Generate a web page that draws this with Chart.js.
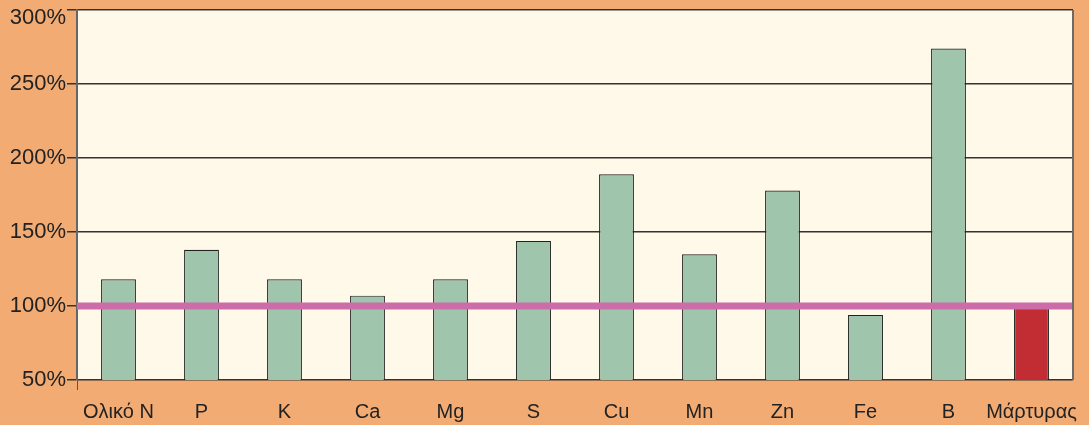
<!DOCTYPE html>
<html>
<head>
<meta charset="utf-8">
<script src="https://cdn.jsdelivr.net/npm/chart.js@4.4.0/dist/chart.umd.min.js"></script>
<style>
  html, body { margin: 0; padding: 0; background: #F2AB73; }
  #wrap { width: 1089px; height: 425px; }
</style>
</head>
<body>
<div id="wrap"><canvas id="chart" width="1089" height="425"></canvas></div>
<script>
const categories = ['Ολικό Ν', 'P', 'K', 'Ca', 'Mg', 'S', 'Cu', 'Mn', 'Zn', 'Fe', 'B', 'Μάρτυρας'];
const values = [118, 138, 118, 107, 118, 144, 189, 135, 178, 94, 274, 100];
const refLevel = 100;
const yTicks = [50, 100, 150, 200, 250, 300];

const barColors = values.map((v, i) => i === values.length - 1 ? '#C22D33' : '#9FC5AD');

// plot background + reference line
const plotDeco = {
  id: 'plotDeco',
  beforeDraw(chart) {
    const { ctx, chartArea: a } = chart;
    ctx.save();
    ctx.fillStyle = '#FEF9E8';
    ctx.fillRect(a.left, a.top, a.right - a.left, a.bottom - a.top);
    ctx.restore();
  },
  afterDatasetsDraw(chart) {
    const { ctx, chartArea: a, scales } = chart;
    const y = scales.y.getPixelForValue(refLevel);
    ctx.save();
    ctx.strokeStyle = '#CC6DAA';
    ctx.lineWidth = 7;
    ctx.beginPath();
    ctx.moveTo(a.left, y);
    ctx.lineTo(a.right, y);
    ctx.stroke();
    // right border
    ctx.strokeStyle = '#6b6b6b';
    ctx.lineWidth = 2;
    ctx.beginPath();
    ctx.moveTo(a.right, a.top);
    ctx.lineTo(a.right, a.bottom);
    ctx.stroke();
    ctx.restore();
  }
};

new Chart(document.getElementById('chart'), {
  type: 'bar',
  data: {
    labels: categories,
    datasets: [{
      data: values,
      backgroundColor: barColors,
      borderColor: '#222',
      borderWidth: 1.2,
      barPercentage: 0.42,
      categoryPercentage: 1
    }]
  },
  options: {
    responsive: false,
    animation: false,
    layout: { padding: { left: 0, top: 10, right: 16, bottom: 0 } },
    plugins: { legend: { display: false }, tooltip: { enabled: false } },
    scales: {
      x: {
        offset: true,
        grid: {
          drawOnChartArea: false,
          tickLength: 10,
          color: ctx => ctx.index === 0 ? '#555' : 'rgba(0,0,0,0)'
        },
        border: { display: false },
        ticks: {
          color: '#222',
          font: { family: 'Liberation Sans, Arial, sans-serif', size: 20 },
          padding: 10,
          autoSkip: false,
          maxRotation: 0
        },
        afterFit(s) { s.height = 45; }
      },
      y: {
        min: 50,
        max: 300,
        afterBuildTicks(s) { s.ticks = yTicks.map(v => ({ value: v })); },
        grid: { color: '#333', lineWidth: 1.5, tickLength: 10 },
        border: { color: '#666', width: 2 },
        ticks: {
          color: '#222',
          font: { family: 'Liberation Sans, Arial, sans-serif', size: 22, lineHeight: 0.75 },
          padding: 1,
          // top label sits just under the top edge, as in the original
          callback: v => v === 300 ? ['', v + '%'] : v + '%'
        },
        afterFit(s) { s.width = 77; s.paddingTop = 0; s.paddingBottom = 0; }
      }
    }
  },
  plugins: [plotDeco]
});
</script>
</body>
</html>
